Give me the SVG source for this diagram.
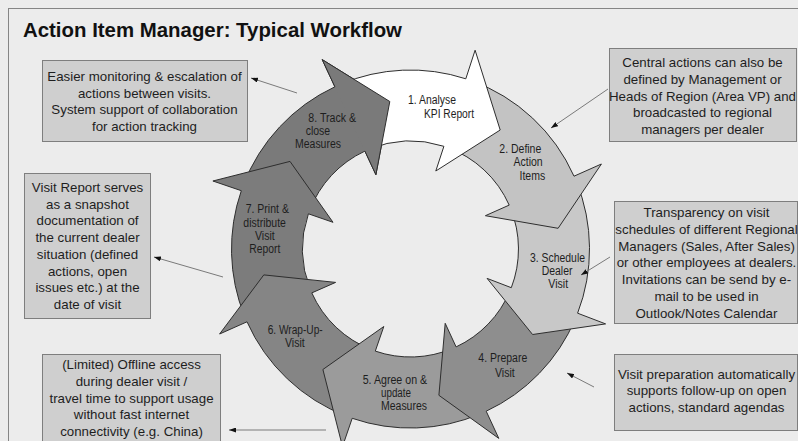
<svg xmlns="http://www.w3.org/2000/svg" width="798" height="441" viewBox="0 0 798 441">
<defs>
<marker id="ah" markerUnits="userSpaceOnUse" markerWidth="7" markerHeight="5" refX="7" refY="2.5" orient="auto">
<path d="M0,0 L7,2.5 L0,5 Z" fill="#111"/>
</marker>
<style>
.seg{stroke:#2e2e2e;stroke-width:1;stroke-linejoin:miter}
.lbl{font-family:"Liberation Sans",Arial,sans-serif;font-size:12px;fill:#1e1e1e}
.box{fill:#cfcfcf;stroke:#7e7e7e;stroke-width:1}
.bt{font-family:"Liberation Sans",Arial,sans-serif;font-size:13.3px;fill:#1e1e1e;text-anchor:middle}
.con{stroke:#7a7a7a;stroke-width:1;fill:none;marker-end:url(#ah)}
</style>
</defs>
<rect x="0" y="0" width="798" height="441" fill="#ececec"/>
<rect x="8.5" y="8.5" width="800" height="440" fill="none" stroke="#858585" stroke-width="1"/>
<text x="23" y="37" font-family="'Liberation Sans',Arial,sans-serif" font-weight="bold" font-size="20.5" fill="#111" textLength="379" lengthAdjust="spacingAndGlyphs">Action Item Manager: Typical Workflow</text>

<g id="seg8">
<path class="seg" fill="#7a7a7a" d="M243.4,184.9 A179,179 0 0 1 334.9,86.8 L322.2,59.6 L389.8,101.5 L375.9,174.7 L364.9,151.1 A108,108 0 0 0 309.7,210.3 Z"/>
</g>
<g id="seg7">
<path class="seg" fill="#7c7c7c" d="M244.5,316.1 A179,179 0 0 1 241.3,190.7 L212.9,181 L290,161.4 L333,222.3 L308.4,213.8 A108,108 0 0 0 310.4,289.5 Z"/>
<text class="lbl" x="245.7" y="213.3" textLength="43.2" lengthAdjust="spacingAndGlyphs">7. Print &amp;</text>
<text class="lbl" x="243.3" y="226.6" textLength="42.6" lengthAdjust="spacingAndGlyphs">distribute</text>
<text class="lbl" x="255" y="239.9" textLength="19.8" lengthAdjust="spacingAndGlyphs">Visit</text>
<text class="lbl" x="249.3" y="253.2" textLength="31" lengthAdjust="spacingAndGlyphs">Report</text>
</g>
<g id="seg6">
<path class="seg" fill="#858585" d="M346.4,416.1 A179,179 0 0 1 247,321.8 L219.6,334 L263.8,274.9 L335.6,282.4 L311.8,292.9 A108,108 0 0 0 371.8,349.8 Z"/>
<text class="lbl" x="267.7" y="334" textLength="55" lengthAdjust="spacingAndGlyphs">6. Wrap-Up-</text>
<text class="lbl" x="285" y="347.3" textLength="19.8" lengthAdjust="spacingAndGlyphs">Visit</text>
</g>
<g id="seg5">
<path class="seg" fill="#9b9b9b" d="M480.4,413.8 A179,179 0 0 1 352.2,418.3 L342.5,446.6 L322.9,369.5 L383.8,326.5 L375.3,351.1 A108,108 0 0 0 452.7,348.4 Z"/>
<text class="lbl" x="362.7" y="383.7" textLength="64.4" lengthAdjust="spacingAndGlyphs">5. Agree on &amp;</text>
<text class="lbl" x="381" y="397" textLength="30" lengthAdjust="spacingAndGlyphs">update</text>
<text class="lbl" x="381" y="410.3" textLength="46" lengthAdjust="spacingAndGlyphs">Measures</text>
</g>
<g id="seg4">
<path class="seg" fill="#8e8e8e" d="M575.3,318.9 A179,179 0 0 1 486.2,411.2 L498.8,438.4 L438.9,395.3 L445.2,323.3 L456.1,346.9 A108,108 0 0 0 509.9,291.2 Z"/>
<text class="lbl" x="478.3" y="361.7" textLength="49" lengthAdjust="spacingAndGlyphs">4. Prepare</text>
<text class="lbl" x="495" y="376.7" textLength="19.8" lengthAdjust="spacingAndGlyphs">Visit</text>
</g>
<g id="seg3">
<path class="seg" fill="#c8c8c8" d="M576.5,181.9 A179,179 0 0 1 577.6,313.2 L605.6,323.9 L532.6,334.5 L487.1,278.4 L511.3,287.7 A108,108 0 0 0 510.6,208.5 Z"/>
<text class="lbl" x="530" y="261.7" textLength="55" lengthAdjust="spacingAndGlyphs">3. Schedule</text>
<text class="lbl" x="541.7" y="275" textLength="30.8" lengthAdjust="spacingAndGlyphs">Dealer</text>
<text class="lbl" x="548.3" y="288.3" textLength="19.8" lengthAdjust="spacingAndGlyphs">Visit</text>
</g>
<g id="seg2">
<path class="seg" fill="#c3c3c3" d="M471.7,80.8 A179,179 0 0 1 574,176.2 L601.4,164 L558.1,228.3 L485.4,215.7 L509.2,205.1 A108,108 0 0 0 447.4,147.5 Z"/>
<text class="lbl" x="499.3" y="153" textLength="42" lengthAdjust="spacingAndGlyphs">2. Define</text>
<text class="lbl" x="513.5" y="166.3" textLength="29.2" lengthAdjust="spacingAndGlyphs">Action</text>
<text class="lbl" x="519.5" y="179.6" textLength="25.7" lengthAdjust="spacingAndGlyphs">Items</text>
</g>
<g id="seg1">
<path class="seg" fill="#ffffff" d="M340.6,84.2 A179,179 0 0 1 465.8,78.8 L475.1,50.2 L500.2,130 L435.8,171 L443.9,146.3 A108,108 0 0 0 368.3,149.6 Z"/>
<text class="lbl" x="408" y="104.3" textLength="48" lengthAdjust="spacingAndGlyphs">1. Analyse</text>
<text class="lbl" x="424" y="117.6" textLength="50" lengthAdjust="spacingAndGlyphs">KPI Report</text>
</g>
<g id="seg8-top">
<polygon points="322.2,59.6 389.8,101.5 375.9,174.7" fill="#7a7a7a"/>
<polyline points="334.9,86.8 322.2,59.6 389.8,101.5 375.9,174.7 364.9,151.1" fill="none" stroke="#2e2e2e" stroke-width="1"/>
<text class="lbl" x="308.3" y="121.5" textLength="47.8" lengthAdjust="spacingAndGlyphs">8. Track &amp;</text>
<text class="lbl" x="305.7" y="134.8" textLength="24.5" lengthAdjust="spacingAndGlyphs">close</text>
<text class="lbl" x="295" y="148.1" textLength="46" lengthAdjust="spacingAndGlyphs">Measures</text>
</g>

<g id="note-monitoring">
<rect class="box" x="42.5" y="60.5" width="205" height="81"/>
<text class="bt" x="144.5" y="81">Easier monitoring &amp; escalation of</text>
<text class="bt" x="144.5" y="97.7">actions between visits.</text>
<text class="bt" x="144.5" y="114.4">System support of collaboration</text>
<text class="bt" x="144.5" y="131">for action tracking</text>
</g>
<g id="note-central">
<rect class="box" x="609.5" y="48.5" width="187" height="93"/>
<text class="bt" x="702.5" y="67">Central actions can also be</text>
<text class="bt" x="702.5" y="83.8">defined by Management or</text>
<text class="bt" x="702.5" y="100.6">Heads of Region (Area VP) and</text>
<text class="bt" x="702.5" y="117.4">broadcasted to regional</text>
<text class="bt" x="702.5" y="134.2">managers per dealer</text>
</g>
<g id="note-report">
<rect class="box" x="24.5" y="173.5" width="126" height="145"/>
<text class="bt" x="87.5" y="192">Visit Report serves</text>
<text class="bt" x="87.5" y="208.7">as a snapshot</text>
<text class="bt" x="87.5" y="225.4">documentation of</text>
<text class="bt" x="87.5" y="242.1">the current dealer</text>
<text class="bt" x="87.5" y="258.8">situation (defined</text>
<text class="bt" x="87.5" y="275.5">actions, open</text>
<text class="bt" x="87.5" y="292.2">issues etc.) at the</text>
<text class="bt" x="87.5" y="308.9">date of visit</text>
</g>
<g id="note-transparency">
<rect class="box" x="614.5" y="201.5" width="183" height="122"/>
<text class="bt" x="706.5" y="216.7">Transparency on visit</text>
<text class="bt" x="706.5" y="233.6">schedules of different Regional</text>
<text class="bt" x="706.5" y="250.5">Managers (Sales, After Sales)</text>
<text class="bt" x="706.5" y="267.4">or other employees at dealers.</text>
<text class="bt" x="706.5" y="284.3">Invitations can be send by e-</text>
<text class="bt" x="706.5" y="301.2">mail to be used in</text>
<text class="bt" x="706.5" y="318.1">Outlook/Notes Calendar</text>
</g>
<g id="note-offline">
<rect class="box" x="42.5" y="354.5" width="178" height="95"/>
<text class="bt" x="131.5" y="369.3">(Limited) Offline access</text>
<text class="bt" x="131.5" y="386">during dealer visit /</text>
<text class="bt" x="131.5" y="402.7">travel time to support usage</text>
<text class="bt" x="131.5" y="419.4">without fast internet</text>
<text class="bt" x="131.5" y="436">connectivity (e.g. China)</text>
</g>
<g id="note-preparation">
<rect class="box" x="614.5" y="354.5" width="183" height="76"/>
<text class="bt" x="706.5" y="378.5">Visit preparation automatically</text>
<text class="bt" x="706.5" y="395.2">supports follow-up on open</text>
<text class="bt" x="706.5" y="412">actions, standard agendas</text>
</g>

<g id="connectors">
<line class="con" x1="297" y1="93" x2="251" y2="78"/>
<line class="con" x1="608" y1="89" x2="551" y2="128"/>
<line class="con" x1="223" y1="277" x2="154" y2="257"/>
<line class="con" x1="610" y1="257" x2="581" y2="275"/>
<line class="con" x1="594" y1="387" x2="567" y2="373"/>
<line class="con" x1="326" y1="430" x2="229" y2="430"/>
</g>
</svg>
